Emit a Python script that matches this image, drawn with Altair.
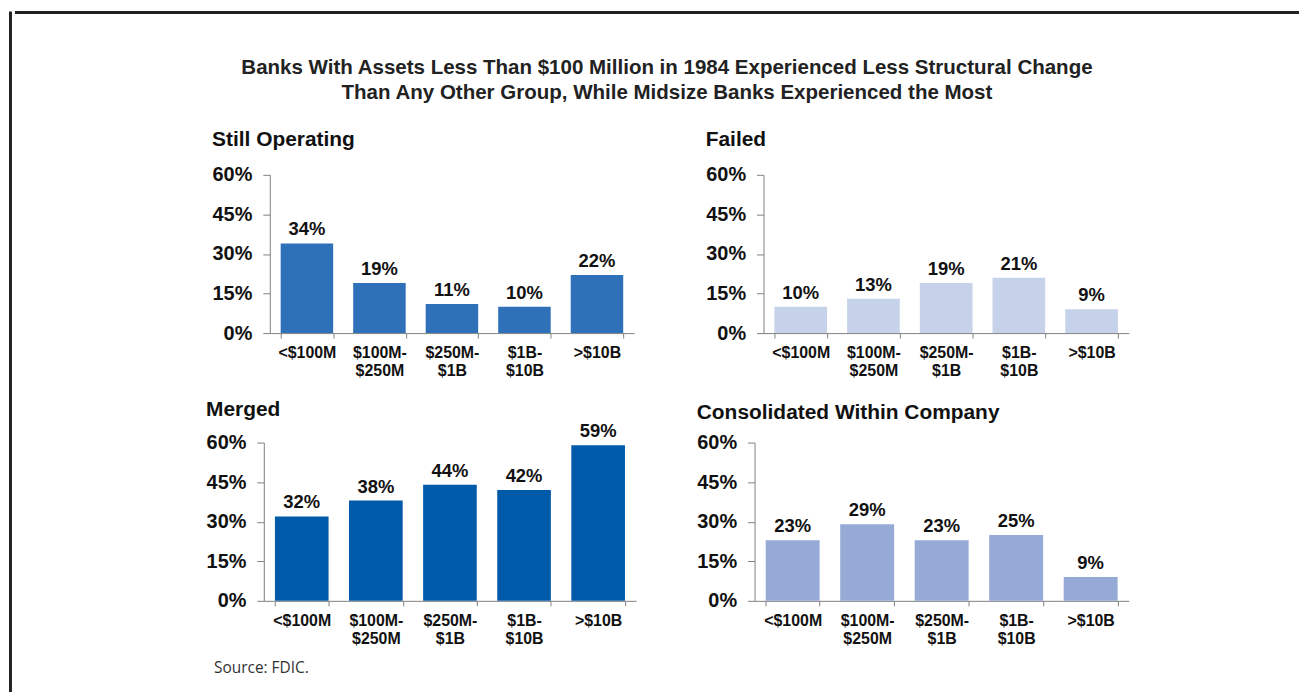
import altair as alt
import pandas as pd

FONT = "Liberation Sans, Arial, Helvetica, sans-serif"
AX = "#808080"
TXT = "#111111"

title_lines = [
    "Banks With Assets Less Than $100 Million in 1984 Experienced Less Structural Change",
    "Than Any Other Group, While Midsize Banks Experienced the Most",
]
categories = ["<$100M", "$100M-|$250M", "$250M-|$1B", "$1B-|$10B", ">$10B"]
panel_titles = ["Still Operating", "Failed", "Merged", "Consolidated Within Company"]
still_operating = [34, 19, 11, 10, 22]
failed = [10, 13, 19, 21, 9]
merged = [32, 38, 44, 42, 59]
consolidated = [23, 29, 23, 25, 9]
y_ticks = [0, 15, 30, 45, 60]
source_text = ["Source: FDIC."]
colors = ["#2E71B8", "#C6D1EA", "#005AAA", "#96AAD6"]

HW = 1290


def panel(title, values, color, width, offset):
    df = pd.DataFrame({"cat": categories, "val": values})
    df["label"] = [f"{v}%" for v in values]
    base = alt.Chart(df).encode(
        x=alt.X(
            "cat:N",
            sort=categories,
            scale=alt.Scale(paddingInner=0.276, paddingOuter=0.15),
            axis=alt.Axis(
                title=None,
                labelAngle=0,
                labelExpr="split(datum.label, '|')",
                tickBand="extent",
                tickSize=5,
                tickColor=AX,
                domainColor=AX,
                labelFont=FONT,
                labelFontSize=16,
                labelFontWeight="bold",
                labelColor=TXT,
                labelPadding=7,
                labelLineHeight=18,
            ),
        ),
        y=alt.Y(
            "val:Q",
            scale=alt.Scale(domain=[0, 60], nice=False),
            axis=alt.Axis(
                title=None,
                values=y_ticks,
                labelExpr="datum.value + '%'",
                grid=False,
                tickSize=7,
                tickColor=AX,
                domainColor=AX,
                labelPadding=11,
                labelFont=FONT,
                labelFontSize=20,
                labelFontWeight="bold",
                labelColor=TXT,
            ),
        ),
    )
    bars = base.mark_bar(color=color)
    text = base.mark_text(
        dy=-8, baseline="alphabetic", font=FONT, fontSize=18.5, fontWeight="bold", color=TXT
    ).encode(text="label:N")
    return alt.layer(bars, text).properties(
        width=width,
        height=159,
        title=alt.TitleParams(
            title,
            anchor="start",
            frame="bounds",
            font=FONT,
            fontSize=21,
            fontWeight="bold",
            color=TXT,
            offset=offset,
        ),
    )


def spacer(w):
    return (
        alt.Chart(pd.DataFrame({"z": [0]}))
        .mark_point(opacity=0, size=0, strokeWidth=0)
        .encode(x=alt.value(0), y=alt.value(0))
        .properties(width=w, height=1)
    )


hdf = pd.DataFrame({"line": title_lines, "i": [0, 1]})
head_text = (
    alt.Chart(hdf)
    .mark_text(font=FONT, fontSize=20.6, fontWeight="bold", color="#222222", align="center", baseline="alphabetic")
    .encode(
        x=alt.value(655),
        y=alt.Y("i:Q", scale=alt.Scale(domain=[0, 1], range=[63, 87.5]), axis=None),
        text="line:N",
    )
)
top_rule = (
    alt.Chart(pd.DataFrame({"z": [0]}))
    .mark_rule(color="#222222", strokeWidth=3)
    .encode(x=alt.value(0), x2=alt.value(HW), y=alt.value(1))
)
header = alt.layer(top_rule, head_text).properties(width=HW, height=106)

p1 = panel(panel_titles[0], still_operating, colors[0], 366, 15)
p2 = panel(panel_titles[1], failed, colors[1], 367, 15)
p3 = panel(panel_titles[2], merged, colors[2], 374, 2.5)
p4 = panel(panel_titles[3], consolidated, colors[3], 376, 10)

row1 = alt.hconcat(spacer(126), p1, p2, spacing=70)
row2 = alt.hconcat(spacer(131), p3, p4, spacing=59)
rows = alt.vconcat(row1, row2, spacing=18)

src = (
    alt.Chart(pd.DataFrame({"t": source_text}))
    .mark_text(font="Open Sans", fontSize=15.5, color="#333333", align="left", baseline="alphabetic")
    .encode(x=alt.value(200), y=alt.value(14.4), text="t:N")
    .properties(width=HW, height=22)
)

inner = alt.vconcat(header, rows, src, spacing=10)

H = 684
left_line = (
    alt.Chart(pd.DataFrame({"z": [0]}))
    .mark_rule(color="#222222", strokeWidth=3)
    .encode(x=alt.value(1.5), y=alt.value(0), y2=alt.value(H))
    .properties(width=3, height=H)
)

chart = (
    alt.hconcat(left_line, inner, spacing=0)
    .properties(padding={"left": 0, "top": 0, "right": 0, "bottom": 0}, background="white")
    .configure_view(stroke="transparent")
)

chart.save("out.html", embed_options={"renderer": "svg", "actions": False})
